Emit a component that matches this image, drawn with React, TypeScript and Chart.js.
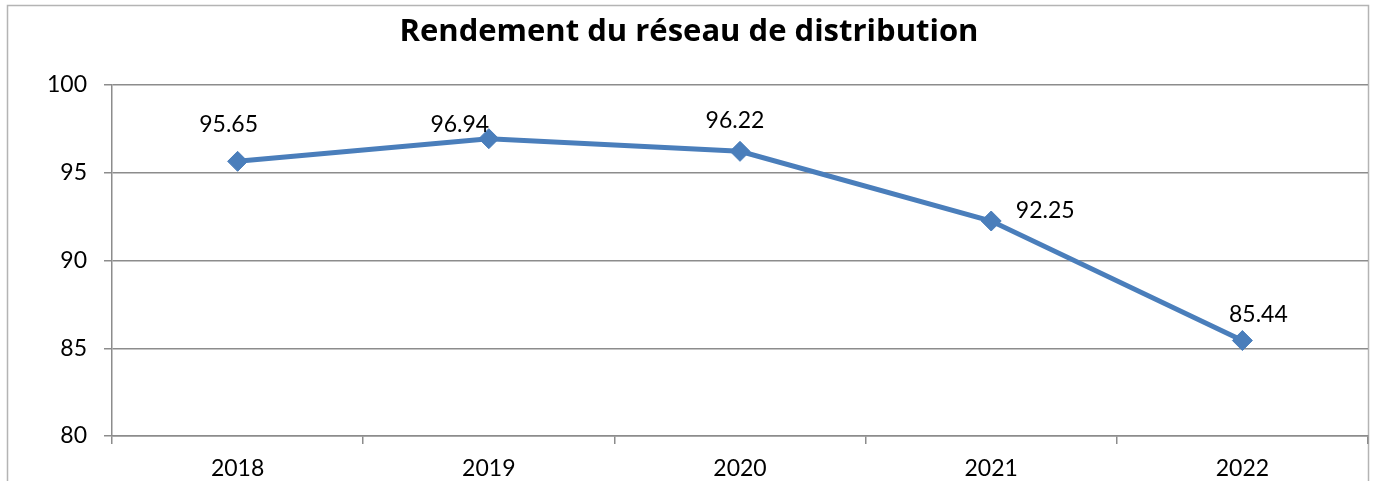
import React, { useEffect, useRef } from "react";
import { Chart, registerables } from "chart.js";

Chart.register(...registerables);

const categories = ["2018", "2019", "2020", "2021", "2022"];
const values = [95.65, 96.94, 96.22, 92.25, 85.44];
const valueLabels = ["95.65", "96.94", "96.22", "92.25", "85.44"];
const labelOffsetX = [-9, -29, -5, 54, 16];
const labelOffsetY = [-37, -14, -31, -10, -26];
const yTicks = [80, 85, 90, 95, 100];
const title = "Rendement du réseau de distribution";

const FONT = "Lato, 'Open Sans', sans-serif";
const TITLE_FONT = "'Open Sans', Lato, sans-serif";

const decor = {
  id: "decor",
  beforeDraw(chart: any) {
    const ctx = chart.ctx;
    ctx.save();
    ctx.fillStyle = "#ffffff";
    ctx.fillRect(0, 0, chart.width, chart.height);
    ctx.strokeStyle = "#b4b4b4";
    ctx.lineWidth = 1.5;
    ctx.strokeRect(7.5, 5.5, 1361, 500);
    ctx.fillStyle = "#000000";
    ctx.font = `bold 31px ${TITLE_FONT}`;
    ctx.textAlign = "center";
    ctx.textBaseline = "middle";
    ctx.fillText(title, 689, 32);
    ctx.restore();
  },
  afterDatasetsDraw(chart: any) {
    const ctx = chart.ctx;
    const meta = chart.getDatasetMeta(0);
    ctx.save();
    ctx.fillStyle = "#000000";
    ctx.font = `23px ${FONT}`;
    ctx.textAlign = "center";
    ctx.textBaseline = "middle";
    meta.data.forEach((pt: any, i: number) => {
      ctx.fillText(valueLabels[i], pt.x + labelOffsetX[i], pt.y + labelOffsetY[i]);
    });
    ctx.restore();
  },
};

export default function App() {
  const ref = useRef<HTMLCanvasElement | null>(null);
  useEffect(() => {
    document.body.style.margin = "0";
    const canvas = ref.current!;
    const chart = new Chart(canvas, {
      type: "line",
      data: {
        labels: categories,
        datasets: [
          {
            data: values,
            borderColor: "#4a7ebb",
            backgroundColor: "#4a7ebb",
            borderWidth: 5,
            pointStyle: "rectRot",
            pointRadius: 10,
            pointBorderWidth: 1,
            pointBackgroundColor: "#4a7ebb",
            pointBorderColor: "#4a7ebb",
            tension: 0,
          },
        ],
      },
      plugins: [decor],
      options: {
        responsive: false,
        animation: false,
        events: [],
        layout: { autoPadding: false, padding: { top: 85, right: 5, bottom: 0, left: 0 } },
        plugins: {
          legend: { display: false },
          title: { display: false },
          tooltip: { enabled: false },
        },
        scales: {
          x: {
            type: "category",
            offset: true,
            afterFit(scale: any) {
              scale.height = 45;
            },
            grid: {
              offset: true,
              drawOnChartArea: false,
              drawTicks: true,
              tickLength: 8,
              color: "#8c8c8c",
              lineWidth: 1.5,
            },
            border: { color: "#8c8c8c", width: 1.5 },
            ticks: {
              color: "#000000",
              font: { family: FONT, size: 23 },
              padding: 11,
              maxRotation: 0,
            },
          },
          y: {
            min: 80,
            max: 100,
            afterFit(scale: any) {
              scale.width = 112;
            },
            afterBuildTicks(scale: any) {
              scale.ticks = yTicks.map((v) => ({ value: v }));
            },
            grid: {
              color: "#8c8c8c",
              lineWidth: 1.5,
              tickLength: 8,
            },
            border: { color: "#8c8c8c", width: 1.5 },
            ticks: {
              color: "#000000",
              font: { family: FONT, size: 23 },
              padding: 17,
            },
          },
        },
      },
    });
    return () => chart.destroy();
  }, []);
  return <canvas ref={ref} width={1373} height={481} style={{ display: "block" }} />;
}
